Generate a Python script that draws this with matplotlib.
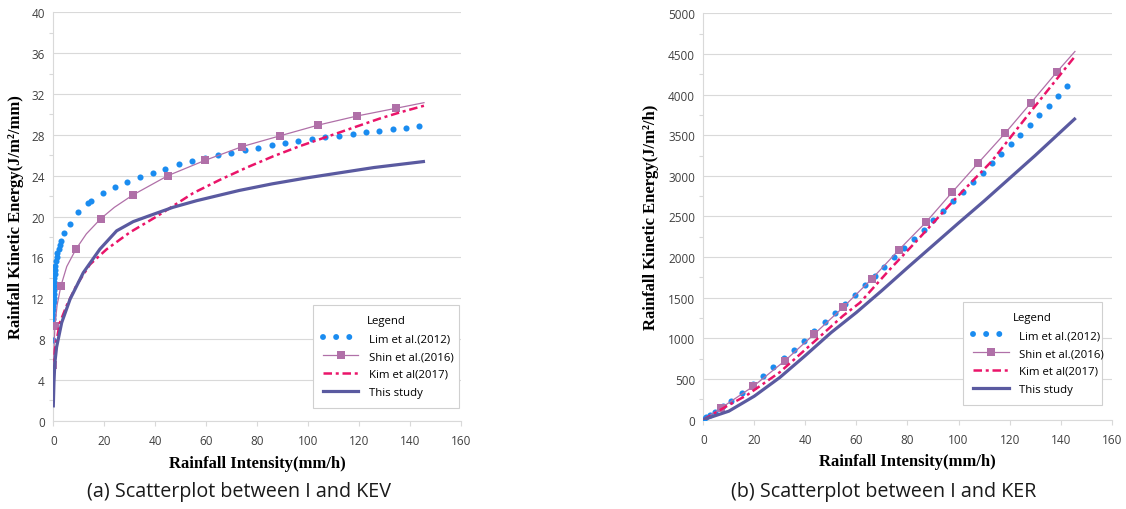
import matplotlib as mpl

mpl.use("Agg")

import matplotlib.pyplot as plt
from matplotlib import font_manager
from matplotlib.lines import Line2D
from matplotlib.ticker import MultipleLocator

# ---- (a) kinetic energy per volume, KEV (J/m2/mm) ----
lim_kev_i = [0.0, 0.0, 0.02, 0.04, 0.06, 0.09, 0.12, 0.16, 0.2, 0.25, 0.3, 0.36, 0.45, 0.55, 0.68,
             0.85, 1.05, 1.3, 1.65, 2.1, 2.6, 3.2, 4.3, 6.5, 9.8, 13.7, 15.0, 19.4, 24.2, 29.0, 34.0,
             39.0, 44.0, 49.2, 54.3, 59.6, 64.8, 70.0, 75.3, 80.5, 85.8, 91.0, 96.2, 101.5, 106.7,
             112.3, 117.6, 122.8, 128.0, 133.3, 138.5, 143.8]
lim_kev = [7.95, 9.3, 10.0, 10.4, 10.8, 11.2, 11.6, 12.0, 12.4, 12.8, 13.2, 13.6, 14.0, 14.4, 14.8,
           15.2, 15.6, 16.0, 16.4, 16.8, 17.2, 17.6, 18.35, 19.3, 20.4, 21.3, 21.55, 22.3, 22.85, 23.4,
           23.9, 24.3, 24.7, 25.1, 25.4, 25.7, 26.0, 26.25, 26.5, 26.75, 26.97, 27.2, 27.4, 27.6, 27.75,
           27.9, 28.1, 28.3, 28.4, 28.6, 28.7, 28.85]

shin_kev_mark_i = [0.05, 0.66, 3.0, 8.9, 18.7, 31.2, 45.0, 59.6, 74.2, 89.0, 104.0, 119.4, 134.6]
shin_kev_mark = [5.45, 9.3, 13.2, 16.8, 19.8, 22.1, 24.0, 25.5, 26.85, 27.9, 28.95, 29.85, 30.6]
shin_kev_line_i = [1.5, 5.3, 13.0, 24.0, 145.6]
shin_kev_line = [11.3, 15.1, 18.3, 20.9, 31.15]

kim_kev_i = [0.2, 0.66, 2.6, 5.3, 9.2, 14.4, 21.0, 30.1, 40.6, 55.0, 65.5, 76.0, 86.4, 96.9, 107.4,
             117.8, 128.3, 136.2, 145.6]
kim_kev = [4.6, 7.0, 9.6, 11.3, 13.3, 15.3, 16.8, 18.45, 20.0, 22.3, 23.6, 24.8, 25.9, 26.9, 27.8,
           28.7, 29.6, 30.2, 30.85]

study_kev_i = [0.0, 0.27, 0.6, 1.3, 3.3, 6.6, 11.8, 18.3, 24.9, 31.4, 38.0, 47.0, 56.3, 73.0, 86.0,
               100.0, 113.0, 126.0, 146.0]
study_kev = [1.3, 3.76, 5.6, 7.2, 9.6, 11.9, 14.5, 16.8, 18.6, 19.5, 20.1, 20.9, 21.55, 22.55, 23.2,
             23.8, 24.3, 24.8, 25.4]

# ---- (b) kinetic energy rate, KER (J/m2/h) ----
lim_ker_i = [0.2, 1.2, 2.6, 4.6, 7.7, 10.9, 15.3, 19.3, 23.5, 27.4, 31.6, 35.7, 39.6, 43.5, 47.7,
             51.6, 55.5, 59.6, 63.4, 67.4, 70.9, 74.8, 78.7, 82.5, 86.5, 90.1, 94.0, 97.9, 101.9,
             105.8, 109.4, 113.0, 116.6, 120.4, 124.1, 128.0, 131.6, 135.4, 139.1, 142.6]
lim_ker = [5, 28, 58, 98, 165, 234, 330, 435, 534, 644, 755, 861, 972, 1088, 1198, 1313, 1424, 1538,
           1657, 1764, 1882, 1998, 2112, 2223, 2334, 2453, 2568, 2687, 2805, 2920, 3035, 3154, 3269,
           3388, 3506, 3626, 3745, 3863, 3986, 4109]

shin_ker_mark_i = [6.8, 19.6, 32.0, 43.5, 54.8, 66.0, 76.7, 87.2, 97.5, 107.7, 118.2, 128.3, 138.4]
shin_ker_mark = [140, 411, 726, 1054, 1383, 1731, 2092, 2428, 2798, 3158, 3523, 3896, 4274]
shin_ker_line_i = [0.0, 145.6]
shin_ker_line = [0, 4530]

kim_ker_i = [0.0, 9.1, 17.0, 30.0, 43.1, 54.8, 61.4, 73.1, 84.2, 97.9, 113.0, 128.0, 145.6]
kim_ker = [0, 165, 300, 585, 950, 1280, 1440, 1850, 2220, 2690, 3180, 3780, 4470]

study_ker_i = [0.0, 10.0, 20.0, 30.0, 40.0, 50.0, 60.0, 70.0, 80.0, 90.0, 100.0, 110.0, 120.0, 130.0, 145.9]
study_ker = [0, 105, 290, 520, 790, 1070, 1320, 1590, 1870, 2145, 2420, 2690, 2970, 3250, 3712]

series_labels = ["Lim et al.(2012)", "Shin et al.(2016)", "Kim et al(2017)", "This study"]
x_ticks = list(range(0, 161, 20))

LIM_C = "#1a8cf0"
SHIN_C = "#b070a8"
KIM_C = "#ea1469"
STUDY_C = "#5a5aa0"
GRID_C = "#d9d9d9"
TICK_C = "#404040"

SANS = ["Open Sans", "DejaVu Sans"]
SERIF = ["Liberation Serif", "DejaVu Serif"]
names = {f.name for f in font_manager.fontManager.ttflist}
if "Liberation Sans Narrow" in names:
    CAP_FONT, CAP_SIZE = ["Liberation Sans Narrow", "DejaVu Sans"], 16.5
else:
    CAP_FONT, CAP_SIZE = SANS, 14.2


def merge(xa, ya, xb, yb):
    pts = sorted(zip(list(xa) + list(xb), list(ya) + list(yb)))
    return [p[0] for p in pts], [p[1] for p in pts]


def draw(ax, lim, shin_mark, shin_line, kim, study, ymax, ystep, ylabel, ylabel_x, legend_box):
    ax.plot(lim[0], lim[1], "o", color=LIM_C, markersize=4.4, markeredgewidth=0, zorder=3)
    sx, sy = merge(shin_mark[0], shin_mark[1], shin_line[0], shin_line[1])
    ax.plot(sx, sy, color=SHIN_C, linewidth=0.9, zorder=4)
    ax.plot(shin_mark[0], shin_mark[1], "s", color=SHIN_C, markersize=5.2, markeredgewidth=0, zorder=4)
    ax.plot(kim[0], kim[1], color=KIM_C, linewidth=1.8, dashes=(3.4, 1.5, 1.2, 1.5), zorder=5)
    ax.plot(study[0], study[1], color=STUDY_C, linewidth=2.3, solid_capstyle="butt", zorder=6)

    ax.set_xlim(0, 160)
    ax.set_ylim(0, ymax)
    ax.set_xticks(x_ticks)
    ax.yaxis.set_major_locator(MultipleLocator(ystep))
    ax.yaxis.set_minor_locator(MultipleLocator(ystep / 2))
    ax.grid(True, axis="y", which="major", color=GRID_C, linewidth=0.8, zorder=0)
    ax.set_axisbelow(True)
    for side in ("top", "right"):
        ax.spines[side].set_visible(False)
    for side in ("left", "bottom"):
        ax.spines[side].set_color(GRID_C)
        ax.spines[side].set_linewidth(0.8)
    ax.tick_params(axis="x", which="major", length=3.5, color=GRID_C, width=0.8,
                   labelsize=8.5, labelcolor=TICK_C, pad=6)
    ax.tick_params(axis="y", which="major", length=0, labelsize=8.5, labelcolor=TICK_C, pad=6)
    ax.tick_params(axis="y", which="minor", length=3, color=GRID_C, width=0.8)
    for lab in ax.get_xticklabels() + ax.get_yticklabels():
        lab.set_family(SANS)

    ax.set_xlabel("Rainfall Intensity(mm/h)", family=SERIF, fontweight="bold", fontsize=12)
    ax.xaxis.set_label_coords(0.5, -0.083)
    ax.set_ylabel(ylabel, family=SERIF, fontweight="bold", fontsize=12)
    ax.yaxis.set_label_coords(ylabel_x, 0.5)

    handles = [
        Line2D([], [], color=LIM_C, linewidth=4.3, linestyle=(0, (0.001, 2.2)), dash_capstyle="round"),
        Line2D([], [], color=SHIN_C, linewidth=0.9, marker="s", markersize=5.2, markeredgewidth=0),
        Line2D([], [], color=KIM_C, linewidth=1.8, dashes=(3.4, 1.5, 1.2, 1.5)),
        Line2D([], [], color=STUDY_C, linewidth=2.3),
    ]
    leg = ax.legend(handles, series_labels, title="Legend", loc="lower left",
                    bbox_to_anchor=legend_box, mode="expand", borderaxespad=0,
                    prop={"family": SANS, "size": 8.2}, title_fontproperties={"family": SANS, "size": 8.2},
                    handlelength=3.1, handletextpad=0.9, labelspacing=0.6, borderpad=0.9,
                    fancybox=False, framealpha=1, edgecolor="#d0d0d0")
    leg.get_frame().set_linewidth(0.8)
    leg.set_zorder(10)


fig = plt.figure(figsize=(11.26, 5.10), dpi=100)
ax_a = fig.add_axes([0.0473, 0.1731, 0.3618, 0.8008])
ax_b = fig.add_axes([0.6246, 0.1751, 0.3627, 0.7969])

draw(ax_a, (lim_kev_i, lim_kev), (shin_kev_mark_i, shin_kev_mark), (shin_kev_line_i, shin_kev_line),
     (kim_kev_i, kim_kev), (study_kev_i, study_kev), 40, 4, "Rainfall Kinetic Energy(J/m\u00b2/mm)",
     -0.073, (0.637, 0.031, 0.359, 0.279))
draw(ax_b, (lim_ker_i, lim_ker), (shin_ker_mark_i, shin_ker_mark), (shin_ker_line_i, shin_ker_line),
     (kim_ker_i, kim_ker), (study_ker_i, study_ker), 5000, 500, "Rainfall Kinetic Energy(J/m\u00b2/h)",
     -0.108, (0.636, 0.036, 0.340, 0.276))

fig.text(0.2123, 0.035, "(a) Scatterplot between I and KEV", family=CAP_FONT, fontsize=CAP_SIZE,
         ha="center", va="center", color="#1a1a1a")
fig.text(0.7846, 0.035, "(b) Scatterplot between I and KER", family=CAP_FONT, fontsize=CAP_SIZE,
         ha="center", va="center", color="#1a1a1a")

fig.savefig("out.png", dpi=100, facecolor="white")
